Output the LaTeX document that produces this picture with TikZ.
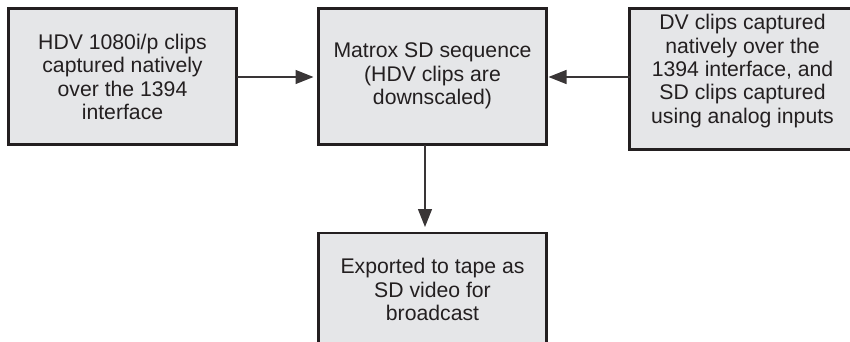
\documentclass[tikz,border=0pt]{standalone}
\usepackage{fontspec}
\setmainfont{Liberation Sans}
\usetikzlibrary{arrows.meta}
\definecolor{boxfill}{HTML}{E5E6E8}
\definecolor{ink}{HTML}{231F20}
\tikzset{
  box/.style={draw=ink, fill=boxfill, line width=2.3pt, outer sep=0pt, inner sep=0pt},
  txt/.style={text=ink, align=center, inner sep=0pt, font=\fontsize{21.2}{23.3}\selectfont},
  conn/.style={draw=ink!90, line width=1.3pt, -{Triangle[length=18pt,width=14pt]}}
}
\begin{document}
\begin{tikzpicture}[x=1pt,y=-1pt]
\useasboundingbox (0,0) rectangle (850,342);
\clip (0,0) rectangle (850,342);
\node[box, minimum width=228pt, minimum height=136pt] (a) at (122.5,76.5) {};
\node[txt] (at) at (122.5,77) {HDV 1080i/p clips\\captured natively\\over the 1394\\interface};
\node[box, minimum width=228pt, minimum height=136pt] (b) at (432.5,76.5) {};
\node[txt] (bt) at (432.5,76) {Matrox SD sequence\\(HDV clips are\\downscaled)};
\node[box, minimum width=226pt, minimum height=141pt] (c) at (742.5,79) {};
\node[txt] (ct) at (742.5,71) {DV clips captured\\natively over the\\1394 interface, and\\SD clips captured\\using analog inputs};
\node[box, minimum width=228pt, minimum height=113pt] (d) at (432.5,289.5) {};
\node[txt] (dt) at (432.5,289.5) {Exported to tape as\\SD video for\\broadcast};
\draw[conn, shorten >=5pt] (a.east |- 0,77) -- (b.west |- 0,77);
\draw[conn, shorten >=2pt] (c.west |- 0,77) -- (b.east |- 0,77);
\draw[conn, shorten >=6pt] (425,0 |- b.south) -- (425,0 |- d.north);
\end{tikzpicture}
\end{document}
